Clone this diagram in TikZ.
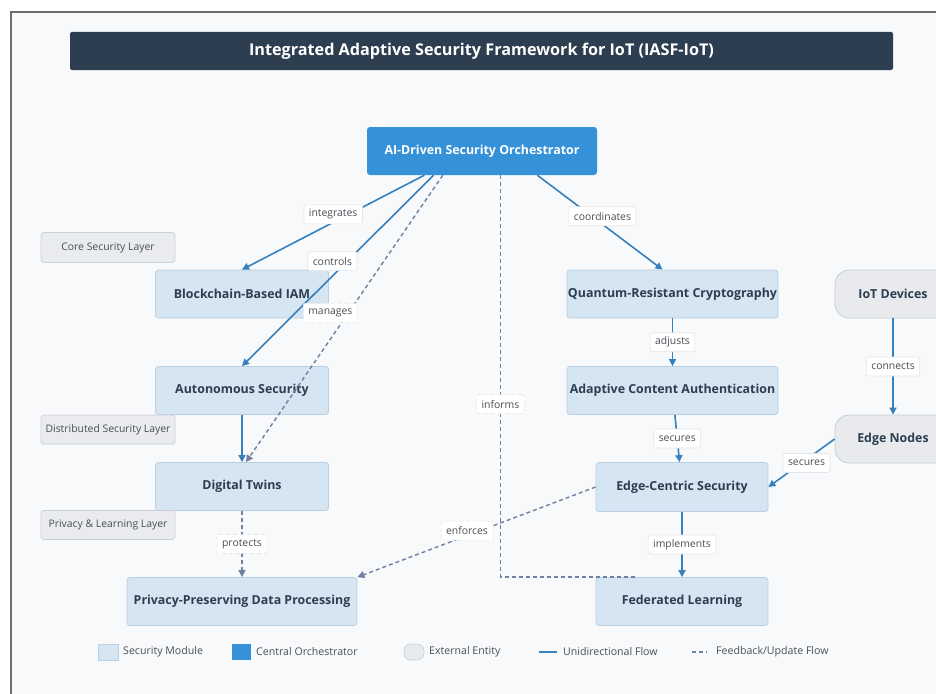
\documentclass[tikz,border=0pt]{standalone}
\usepackage{fontspec}
\setmainfont{Open Sans}
\usetikzlibrary{arrows.meta,calc}
\definecolor{bgc}{HTML}{F7F9FB}
\definecolor{framec}{HTML}{6A6D70}
\definecolor{titlec}{HTML}{2C3E50}
\definecolor{orchc}{HTML}{3592D9}
\definecolor{modc}{HTML}{D6E5F2}
\definecolor{modb}{HTML}{B9CFE3}
\definecolor{extc}{HTML}{E8EAED}
\definecolor{extb}{HTML}{C9CDD2}
\definecolor{layc}{HTML}{E9EBEE}
\definecolor{layb}{HTML}{CDD1D6}
\definecolor{edgec}{HTML}{3580BD}
\definecolor{dashc}{HTML}{6F80A3}
\definecolor{txtc}{HTML}{2C3E50}
\definecolor{lblb}{HTML}{E2E4E7}
\definecolor{graytxt}{HTML}{4A4F55}
\begin{document}
\begin{tikzpicture}[x=1pt,y=-1pt,
  titlebar/.style={fill=titlec, draw=none, rounded corners=2, text=white, font=\fontsize{16.2}{18}\selectfont\bfseries, inner sep=0},
  orchbox/.style={fill=orchc, draw=none, rounded corners=3, text=white, font=\fontsize{12.4}{14}\selectfont\bfseries, inner sep=0},
  modbox/.style={fill=modc, draw=modb, line width=0.8, rounded corners=3, text=txtc, font=\fontsize{12.4}{14}\selectfont\bfseries, inner sep=0},
  extbox/.style={fill=extc, draw=extb, line width=0.8, rounded corners=14, text=txtc, font=\fontsize{12.4}{14}\selectfont\bfseries, inner sep=0},
  laybox/.style={fill=layc, draw=layb, line width=0.8, rounded corners=3, text=graytxt, font=\fontsize{10.4}{12}\selectfont, inner sep=0, minimum width=134, minimum height=29},
  lbl/.style={fill=white, draw=lblb, line width=0.6, rounded corners=2, text=graytxt, font=\fontsize{10.4}{12}\selectfont, inner xsep=5, inner ysep=0, minimum height=19},
  flow/.style={draw=edgec, line width=1.6, -{Triangle[length=7,width=7]}},
  fback/.style={draw=dashc, line width=1.4, dash pattern=on 4 off 3, -{Triangle[length=7,width=7]}},
  legtxt/.style={text=graytxt, font=\fontsize{10.6}{12}\selectfont, anchor=west, inner sep=0}
]
\clip (0,0) rectangle (936,693);
\fill[white] (0,0) rectangle (936,693);
\draw[fill=bgc, draw=framec, line width=1.5] (11,12) rectangle (960,720);

% title
\node[titlebar, minimum width=823, minimum height=38] (title) at (481.5,51) {Integrated Adaptive Security Framework for IoT (IASF-IoT)};

% nodes
\node[orchbox, minimum width=230, minimum height=48] (orch) at (482,151) {AI-Driven Security Orchestrator};
\node[modbox, minimum width=173, minimum height=48] (bc) at (242,294) {Blockchain-Based IAM};
\node[modbox, minimum width=173, minimum height=48] (auto) at (242,390.5) {Autonomous Security};
\node[modbox, minimum width=173, minimum height=48] (dt) at (242,486.5) {Digital Twins};
\node[modbox, minimum width=230, minimum height=48] (ppdp) at (242,601.5) {Privacy-Preserving Data Processing};
\node[modbox, minimum width=211, minimum height=48] (qrc) at (672.5,294) {Quantum-Resistant Cryptography};
\node[modbox, minimum width=211, minimum height=48] (aca) at (672.5,390.5) {Adaptive Content Authentication};
\node[modbox, minimum width=172, minimum height=49] (esc) at (682,487) {Edge-Centric Security};
\node[modbox, minimum width=172, minimum height=48] (fl) at (682,601.5) {Federated Learning};
\node[extbox, minimum width=116, minimum height=48] (iot) at (893,294) {IoT Devices};
\node[extbox, minimum width=116, minimum height=48] (en) at (893,439) {Edge Nodes};

% layer labels
\node[laybox, minimum height=30] (core) at (108,247.5) {Core Security Layer};
\node[laybox] (dist) at (108,429.5) {Distributed Security Layer};
\node[laybox] (priv) at (108,525) {Privacy \& Learning Layer};

% connectors
\coordinate (o1) at ($(orch.south west)!0.25!(orch.south east)$);
\coordinate (o2) at ($(orch.south west)!0.29!(orch.south east)$);
\coordinate (o3) at ($(orch.south west)!0.33!(orch.south east)$);
\coordinate (o4) at ($(orch.south west)!0.58!(orch.south east)$);
\coordinate (o5) at ($(orch.south west)!0.74!(orch.south east)$);
\coordinate (flend) at ($(fl.north west)+(40,0)$);

\draw[fback, -] (o4) |- (flend) node[lbl, pos=0.285] {informs};
\draw[flow] (o1) -- (bc.north) node[lbl, pos=0.5, yshift=8] {integrates};
\draw[flow] (o2) -- (auto.north) node[lbl, pos=0.45, xshift=-15] {controls};
\draw[fback] (o3) -- ($(dt.north)+(4,0)$) node[lbl, pos=0.48, xshift=-18] {manages};
\draw[flow] (auto.south) -- (dt.north);
\draw[fback] (dt) -- (ppdp) node[lbl, pos=0.5] {protects};
\draw[flow] (o5) -- ($(qrc.north)+(-10,0)$) node[lbl, pos=0.52, yshift=8] {coordinates};
\draw[flow] (qrc) -- (aca) node[lbl, pos=0.5] {adjusts};
\draw[flow] (aca) -- (esc) node[lbl, pos=0.5] {secures};
\draw[flow] (esc) -- (fl) node[lbl, pos=0.5] {implements};
\draw[flow] (iot) -- (en) node[lbl, pos=0.5] {connects};
\draw[flow] (en.west) -- (esc.east) node[lbl, pos=0.5, xshift=5] {secures};
\draw[fback] (esc.west) -- (ppdp.north east) node[lbl, pos=0.54, yshift=5] {enforces};

% legend
\node[fill=modc, draw=modb, line width=0.6, minimum width=20, minimum height=16, inner sep=0] (lg1) at (108,652) {};
\node[legtxt] (lt1) at (123,652) {Security Module};
\node[fill=orchc, draw=none, minimum width=19, minimum height=16, inner sep=0] (lg2) at (241.5,652) {};
\node[legtxt] (lt2) at (256,652) {Central Orchestrator};
\node[fill=extc, draw=extb, line width=0.6, rounded corners=7, minimum width=20, minimum height=16, inner sep=0] (lg3) at (414,652) {};
\node[legtxt] (lt3) at (429,652) {External Entity};
\coordinate (lga) at (539,652);
\coordinate (lgb) at (557,652);
\draw[draw=edgec, line width=1.5] (lga) -- (lgb);
\node[legtxt] (lt4) at (563,652) {Unidirectional Flow};
\coordinate (lgc) at (692,652);
\coordinate (lgd) at (707,652);
\draw[draw=dashc, line width=1.4, dash pattern=on 4 off 3] (lgc) -- (lgd);
\node[legtxt] (lt5) at (716,652) {Feedback/Update Flow};
\end{tikzpicture}
\end{document}
